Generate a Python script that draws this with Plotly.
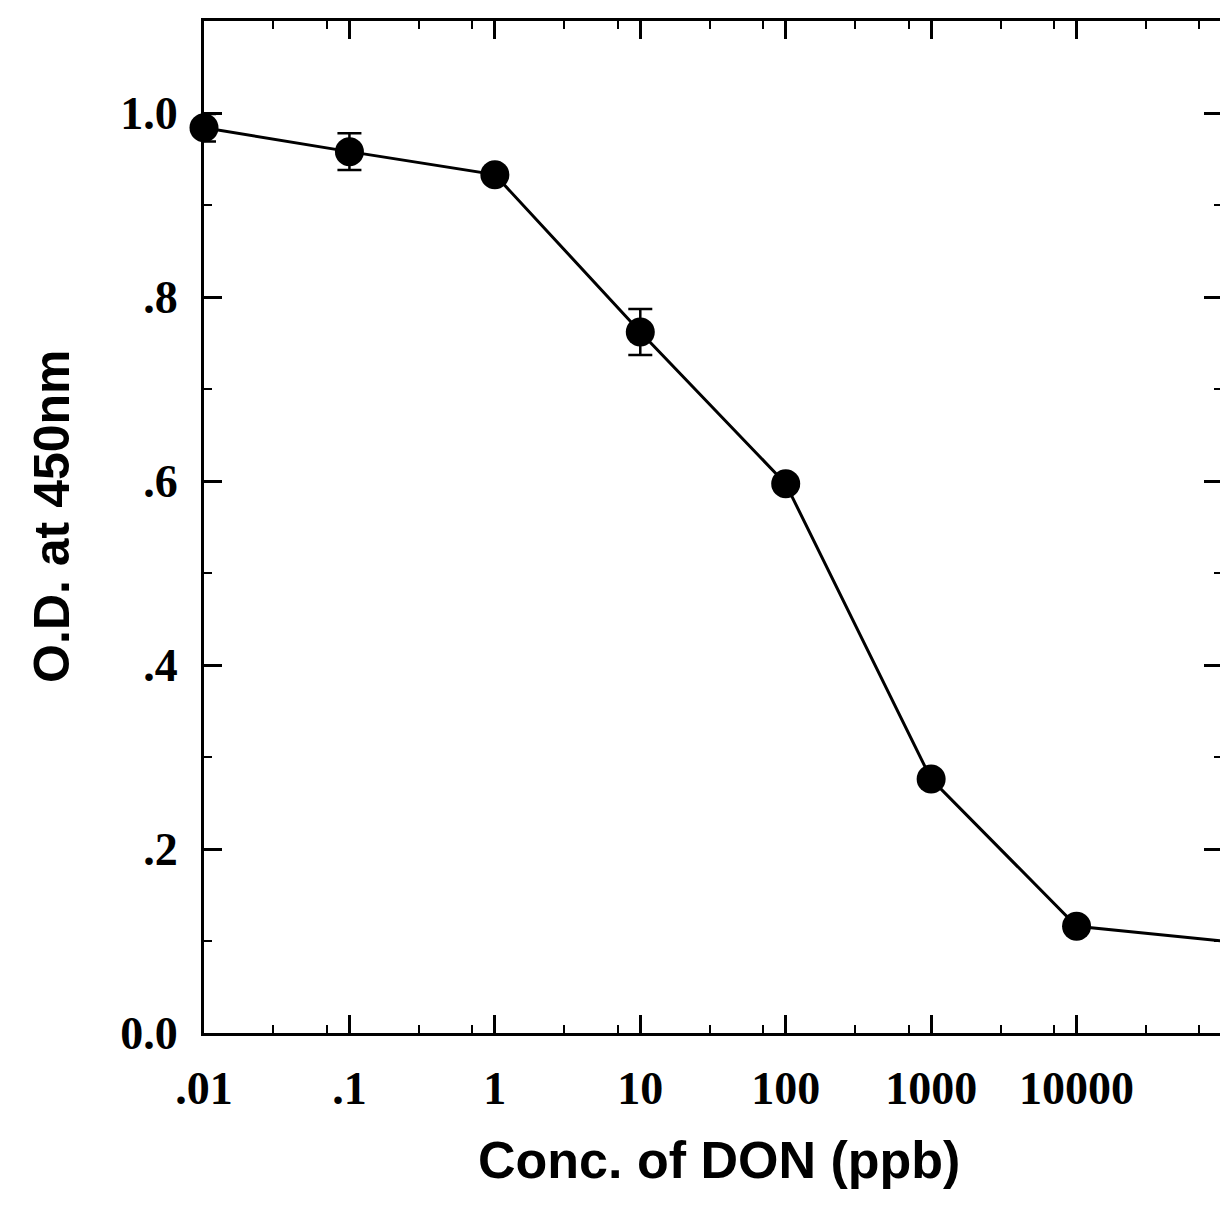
import plotly.graph_objects as go

# Data
conc_ppb = [0.01, 0.1, 1, 10, 100, 1000, 10000, 100000]
od_450 = [0.984, 0.958, 0.933, 0.762, 0.597, 0.276, 0.116, 0.100]
marker_sizes = [29, 29, 29, 29, 29, 29, 29, 0]

# points that show visible error bars
err_conc = [0.01, 0.1, 10]
err_od = [0.984, 0.958, 0.762]
err_val = [0.015, 0.020, 0.025]

x_tickvals = [0.01, 0.1, 1, 10, 100, 1000, 10000]
x_ticktext = [".01", ".1", "1", "10", "100", "1000", "10000"]
x_minor = [m * 10 ** k for k in range(-2, 5) for m in (3, 7)]
y_tickvals = [0.0, 0.2, 0.4, 0.6, 0.8, 1.0]
y_ticktext = ["0.0", ".2", ".4", ".6", ".8", "1.0"]
y_minor = [0.1, 0.3, 0.5, 0.7, 0.9]

fig = go.Figure()
fig.add_trace(go.Scatter(
    x=err_conc, y=err_od, mode="markers",
    marker=dict(color="black", size=1, opacity=1),
    error_y=dict(type="data", array=err_val, visible=True, color="black",
                 thickness=2.5, width=12),
    cliponaxis=False, showlegend=False, hoverinfo="skip",
))
fig.add_trace(go.Scatter(
    x=conc_ppb, y=od_450,
    mode="lines+markers",
    line=dict(color="black", width=3),
    marker=dict(color="black", size=marker_sizes, opacity=1,
                line=dict(color="black", width=0)),
    cliponaxis=False,
    showlegend=False,
))

tickfont = dict(family="Liberation Serif", size=46, color="black", weight="bold")
titlefont = dict(family="Liberation Sans", color="black", weight="bold")

fig.update_layout(
    width=1220, height=1201,
    margin=dict(l=196, r=6, t=13, b=176),
    paper_bgcolor="white", plot_bgcolor="white",
    xaxis=dict(
        type="log", range=[-2, 5.0], automargin=False,
        tickvals=x_tickvals, ticktext=x_ticktext,
        ticks="inside", ticklen=18, tickwidth=2.5, tickcolor="black",
        minor=dict(tickvals=x_minor, ticks="inside", ticklen=8, tickwidth=2, tickcolor="black"),
        showline=True, linecolor="black", linewidth=3, mirror="ticks",
        showgrid=False, zeroline=False,
        tickfont=tickfont, ticklabelstandoff=13,
    ),
    yaxis=dict(
        range=[0, 1.1], automargin=False,
        tickvals=y_tickvals, ticktext=y_ticktext,
        ticks="inside", ticklen=18, tickwidth=2.5, tickcolor="black",
        minor=dict(tickvals=y_minor, ticks="inside", ticklen=8, tickwidth=2, tickcolor="black"),
        showline=True, linecolor="black", linewidth=3, mirror="ticks",
        showgrid=False, zeroline=False,
        tickfont=tickfont, ticklabelstandoff=14,
    ),
    annotations=[
        dict(text="Conc. of DON (ppb)", xref="paper", yref="paper",
             x=0.506, y=0, xanchor="center", yanchor="middle", yshift=-127,
             showarrow=False, font=dict(size=52, **titlefont)),
        dict(text="O.D. at 450nm", xref="paper", yref="paper",
             x=0, y=0.51, xanchor="center", yanchor="middle", xshift=-152,
             textangle=-90, showarrow=False, font=dict(size=50, **titlefont)),
    ],
)

fig.write_html("out.html")
